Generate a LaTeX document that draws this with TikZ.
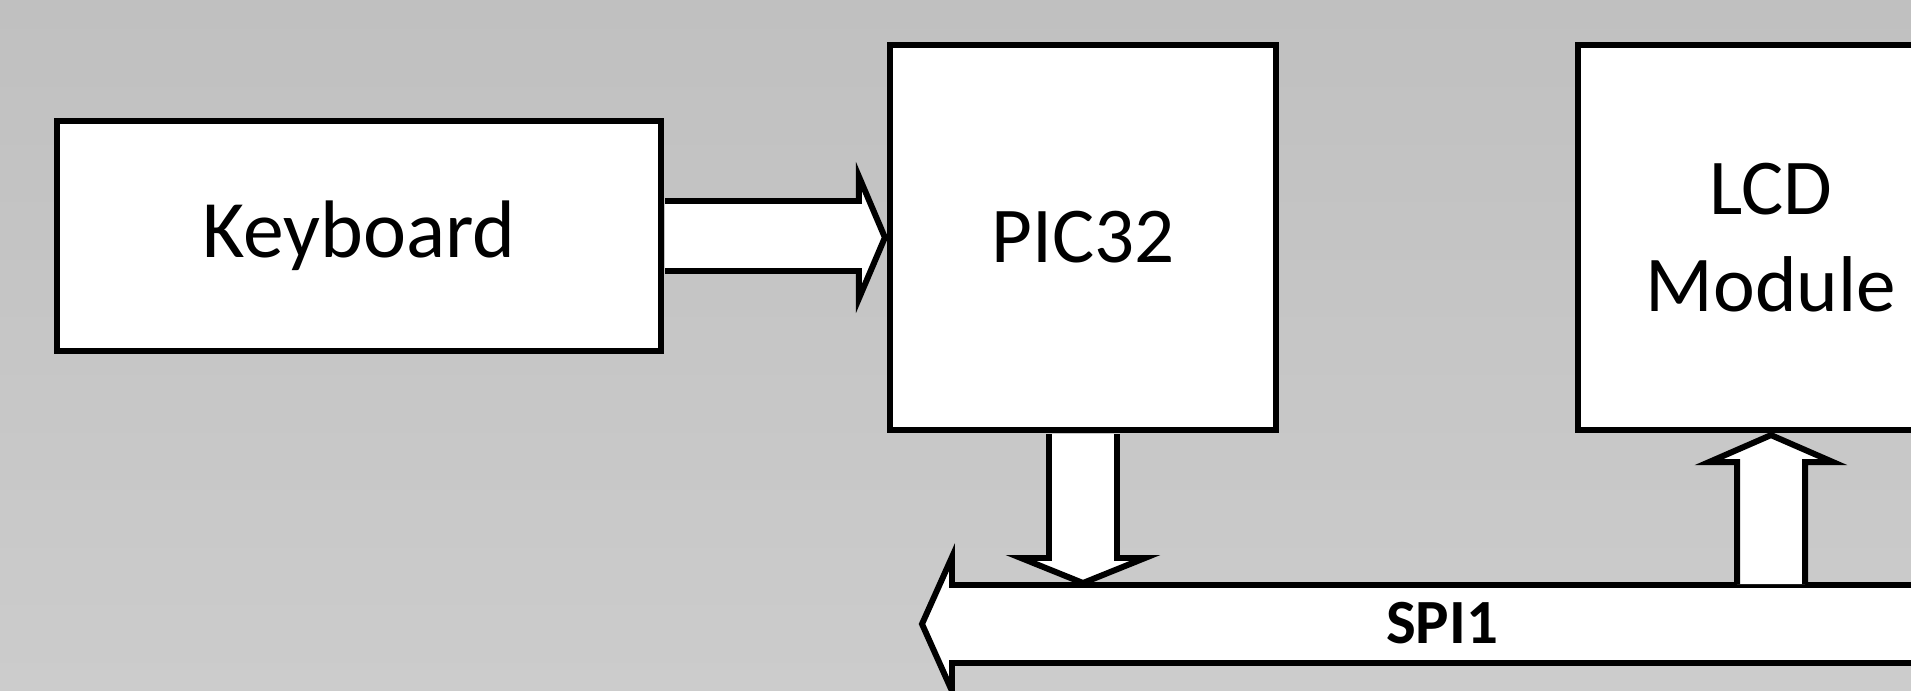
\documentclass[tikz,border=0pt]{standalone}
\usepackage{fontspec}
\setmainfont{Carlito}
\usetikzlibrary{calc}
\definecolor{bgtop}{RGB}{192,192,192}
\definecolor{bgbot}{RGB}{204,204,204}
\tikzset{
  unit/.style={draw=black, line width=1.7pt, fill=white, minimum width=3.86cm,
    minimum height=3.85cm, inner sep=0pt, align=center,
    font=\fontsize{22.5}{27.6}\selectfont},
  fatarrow/.style={draw=black, line width=1.7pt, fill=white, line join=miter}
}
\begin{document}
\begin{tikzpicture}[x=0.01cm, y=-0.01cm]
  \useasboundingbox (0,0) rectangle (1911,691);
  \clip (0,0) rectangle (1911,691);
  \shade[top color=bgtop, bottom color=bgbot] (0,0) rectangle (1911,691);
  % blocks
  \node[unit, minimum width=6.04cm, minimum height=2.30cm,
    font=\fontsize{23.2}{27.6}\selectfont] (kbd) at (359,236) {Keyboard};
  \node[unit] (pic) at (1083,237.5) {PIC32};
  \node[unit] (lcd) at (1771,237.5) {LCD\\Module};
  % SPI bus
  \coordinate (bustop) at (0,585);
  \coordinate (bustip) at (922,624);
  \draw[fatarrow] (bustip) -- (952,557) -- (952,585) -- (2000,585)
    -- (2000,663) -- (952,663) -- (952,691) -- cycle;
  \node[font=\bfseries\fontsize{17.9}{21}\selectfont] (spi) at (1442,623) {SPI1};
  % links
  \draw[fatarrow] ($(kbd.east)+(1,-35)$) -| ($(pic.west)+(-28,-61)$) -- ($(pic.west)+(-2,0)$)
    -- ++(-26,61) |- ($(kbd.east)+(1,35)$);
  \draw[fatarrow] ($(pic.south)+(-34,1)$) |- ($(pic.south |- bustop)+(-62,-27)$)
    -- ($(pic.south |- bustop)+(0,-2)$) -- ++(62,-25) -| ($(pic.south)+(34,1)$);
  \draw[fatarrow] ($(lcd.south |- bustop)+(-34,-1)$) |- ($(lcd.south)+(-62,29)$)
    -- ($(lcd.south)+(0,2)$) -- ++(62,27) -| ($(lcd.south |- bustop)+(34,-1)$);
\end{tikzpicture}
\end{document}
